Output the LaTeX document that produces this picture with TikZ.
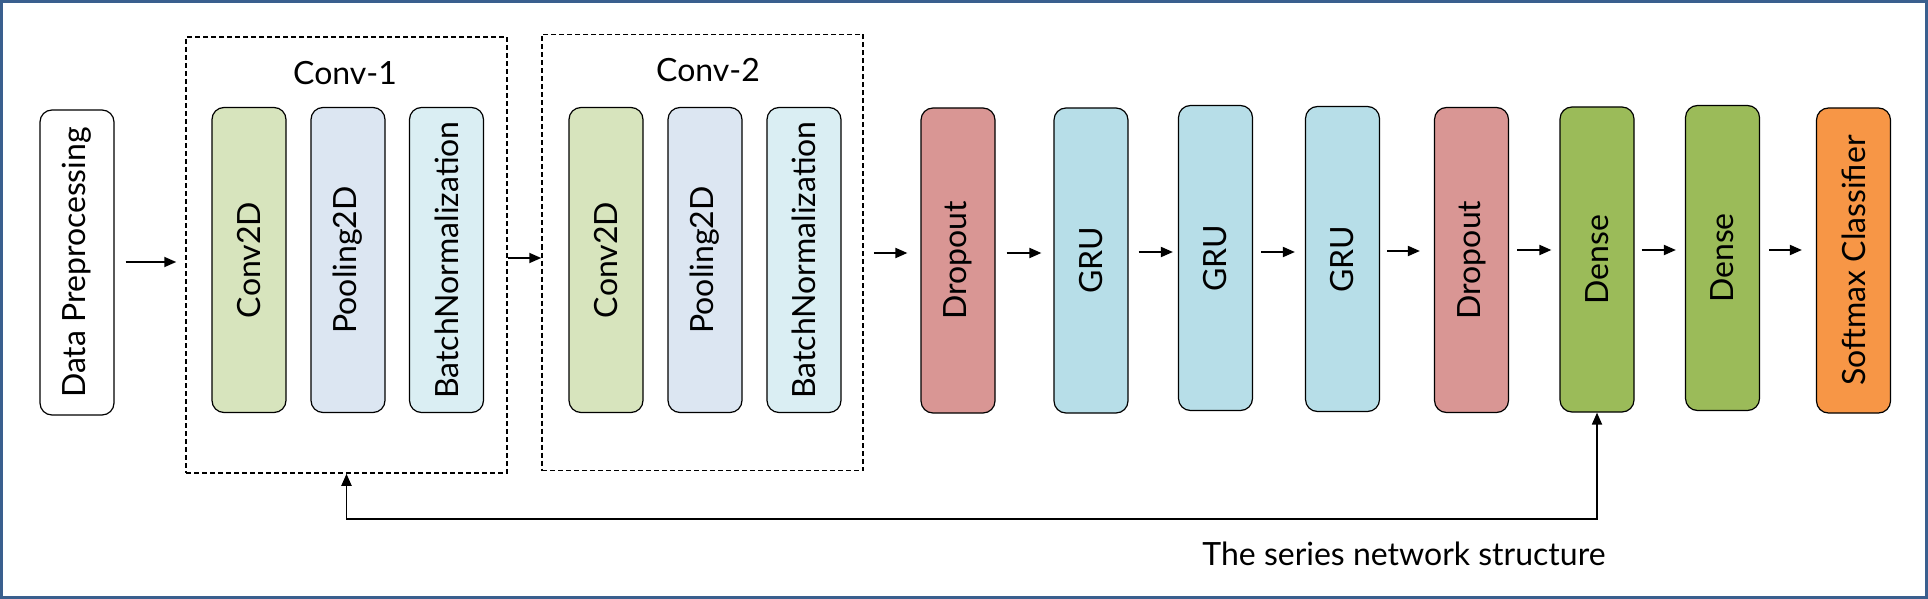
\documentclass[tikz,border=0pt]{standalone}
\usepackage{fontspec}
\setmainfont{Lato}
\usetikzlibrary{arrows.meta}
\definecolor{framec}{HTML}{3A5F8E}
\definecolor{convc}{HTML}{D7E4BD}
\definecolor{poolc}{HTML}{DCE6F2}
\definecolor{bnc}{HTML}{DAEEF3}
\definecolor{dropc}{HTML}{D99694}
\definecolor{gruc}{HTML}{B7DEE8}
\definecolor{densec}{HTML}{9BBB59}
\definecolor{softc}{HTML}{F79646}
\begin{document}
\begin{tikzpicture}[x=1pt,y=-1pt,
  layer/.style={draw=black, line width=1.2pt, rounded corners=12pt, minimum width=74pt, minimum height=305pt, inner sep=0pt, font=\fontsize{32}{38}\selectfont},
  group/.style={draw=black, dash pattern=on 5pt off 3pt, line width=1.5pt, inner sep=0pt, minimum width=321pt, minimum height=436pt},
  flow/.style={-{Triangle[length=12pt,width=10pt]}, line width=1.8pt},
  fb/.style={{Triangle[length=12pt,width=10pt]}-{Triangle[length=12pt,width=10pt]}, line width=1.8pt},
  lbl/.style={font=\fontsize{32}{38}\selectfont, inner sep=0pt}]
\useasboundingbox (0,0) rectangle (1928,599);
\draw[framec, line width=3pt] (1.5,1.5) rectangle (1926.5,597.5);

% groups
\node[group] (conv1) at (346.5,255) {};
\node[group] (conv2) at (702.5,252.5) {};
\node[lbl] (conv1lbl) at (345,73) {Conv-1};
\node[lbl] (conv2lbl) at (708,70) {Conv-2};

% layers
\node[layer, fill=white] (data) at (77,262.5) {\rotatebox{90}{Data Preprocessing}};
\node[layer, fill=convc] (c1conv) at (249,260) {\rotatebox{90}{Conv2D}};
\node[layer, fill=poolc] (c1pool) at (348,260) {\rotatebox{90}{Pooling2D}};
\node[layer, fill=bnc] (c1bn) at (446.5,260) {\rotatebox{90}{BatchNormalization}};
\node[layer, fill=convc] (c2conv) at (606,260) {\rotatebox{90}{Conv2D}};
\node[layer, fill=poolc] (c2pool) at (705,260) {\rotatebox{90}{Pooling2D}};
\node[layer, fill=bnc] (c2bn) at (804,260) {\rotatebox{90}{BatchNormalization}};
\node[layer, fill=dropc] (drop1) at (958,260.5) {\rotatebox{90}{Dropout}};
\node[layer, fill=gruc] (gru1) at (1091,260.5) {\rotatebox{90}{GRU}};
\node[layer, fill=gruc] (gru2) at (1215.5,258) {\rotatebox{90}{GRU}};
\node[layer, fill=gruc] (gru3) at (1342.5,259) {\rotatebox{90}{GRU}};
\node[layer, fill=dropc] (drop2) at (1471.5,260) {\rotatebox{90}{Dropout}};
\node[layer, fill=densec] (dense1) at (1597,259.5) {\rotatebox{90}{Dense}};
\node[layer, fill=densec] (dense2) at (1722.5,258) {\rotatebox{90}{Dense}};
\node[layer, fill=softc] (soft) at (1853.5,260.5) {\rotatebox{90}{Softmax Classifier}};

% arrows
\draw[flow, shorten <=11pt, shorten >=9pt] (data.east |- 0,262) -- (conv1.west |- 0,262);
\draw[flow] (conv1.east |- 0,258) -- (conv2.west |- 0,258);
\draw[flow, shorten <=10pt, shorten >=13pt] (conv2.east |- 0,253) -- (drop1.west |- 0,253);
\draw[flow, shorten <=11pt, shorten >=12pt] (drop1.east |- 0,253) -- (gru1.west |- 0,253);
\draw[flow, shorten <=10pt, shorten >=5pt] (gru1.east |- 0,252) -- (gru2.west |- 0,252);
\draw[flow, shorten <=8pt, shorten >=10pt] (gru2.east |- 0,252) -- (gru3.west |- 0,252);
\draw[flow, shorten <=7pt, shorten >=14pt] (gru3.east |- 0,251) -- (drop2.west |- 0,251);
\draw[flow, shorten <=8pt, shorten >=8pt] (drop2.east |- 0,250) -- (dense1.west |- 0,250);
\draw[flow, shorten <=7pt, shorten >=9pt] (dense1.east |- 0,250) -- (dense2.west |- 0,250);
\draw[flow, shorten <=9pt, shorten >=14pt] (dense2.east |- 0,250) -- (soft.west |- 0,250);

% feedback
\draw[fb] (conv1.south) -- (conv1.south |- 0,519) -- (dense1.south |- 0,519) -- (dense1.south);
\node[lbl, anchor=base] (cap) at (1404,565) {The series network structure};
\end{tikzpicture}
\end{document}
